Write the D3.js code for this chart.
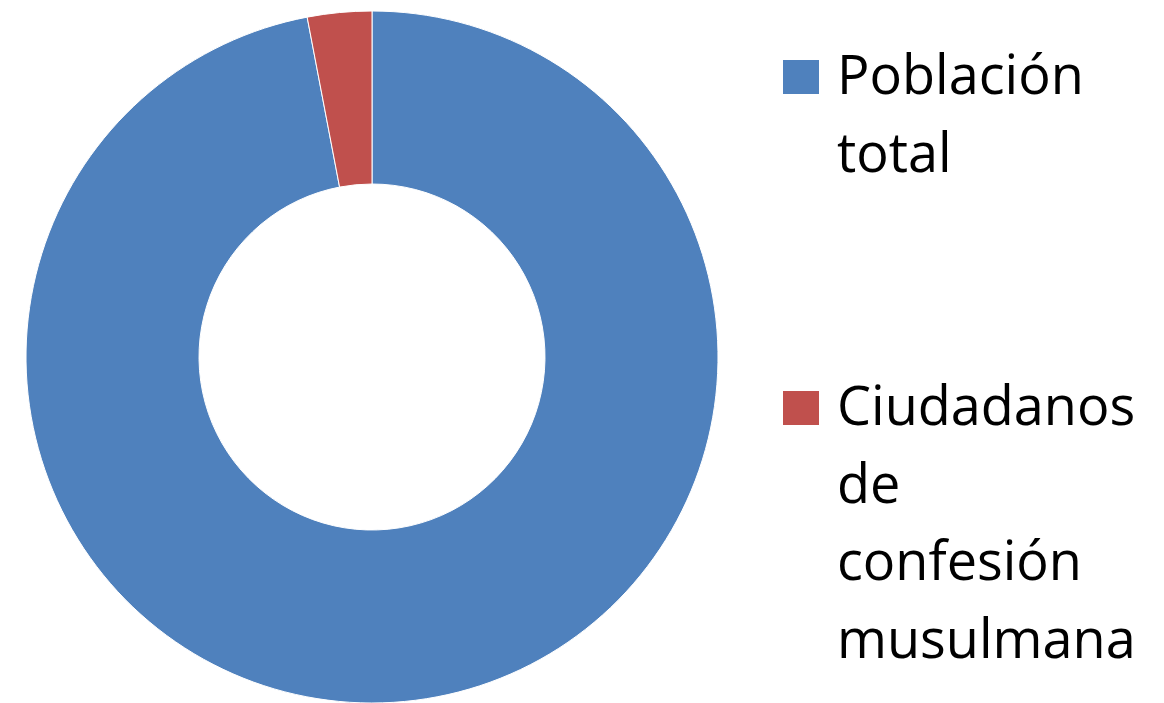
<!DOCTYPE html>
<html>
<head>
<meta charset="utf-8">
<script src="https://cdn.jsdelivr.net/npm/d3@7"></script>
<style>
  body { margin: 0; background: #fff; }
  text { font-family: "Open Sans", sans-serif; fill: #000; }
</style>
</head>
<body>
<div id="root"></div>
<script>
// chart data
let categories = ["Población total", "Ciudadanos de confesión musulmana"];
let values = [97, 3];
let colors = ["#4F81BD", "#C0504D"];
// legend lines (as wrapped in the original)
let legendLines = [["Población", "total"], ["Ciudadanos", "de", "confesión", "musulmana"]];

let width = 1164, height = 703;
let cx = 372, cy = 357, outerR = 346, innerR = 173;

let svg = d3.select("#root").append("svg")
  .attr("width", width)
  .attr("height", height);

let color = d3.scaleOrdinal().domain(categories).range(colors);

let pie = d3.pie().sort(null).value((d) => d.value);
let arc = d3.arc().innerRadius(innerR).outerRadius(outerR);

let data = categories.map((c, i) => ({ name: c, value: values[i] }));

// donut slices
svg.append("g")
  .attr("transform", "translate(" + cx + "," + cy + ")")
  .selectAll("path")
  .data(pie(data))
  .enter()
  .append("path")
  .attr("d", arc)
  .attr("fill", (d) => color(d.data.name))
  .attr("stroke", "#fff")
  .attr("stroke-width", 1);

// legend
let legendX = 783, firstBaseline = [94, 425], lineStep = 77.7;
let legend = svg.append("g");
categories.forEach((c, i) => {
  let g = legend.append("g");
  g.append("rect")
    .attr("x", legendX)
    .attr("y", firstBaseline[i] - 34)
    .attr("width", 36)
    .attr("height", 34)
    .attr("fill", color(c));
  let t = g.append("text")
    .attr("x", 837)
    .attr("y", firstBaseline[i])
    .style("font-size", "54px");
  legendLines[i].forEach((line, j) => {
    t.append("tspan")
      .attr("x", 837)
      .attr("y", firstBaseline[i] + j * lineStep)
      .text(line);
  });
});
</script>
</body>
</html>
